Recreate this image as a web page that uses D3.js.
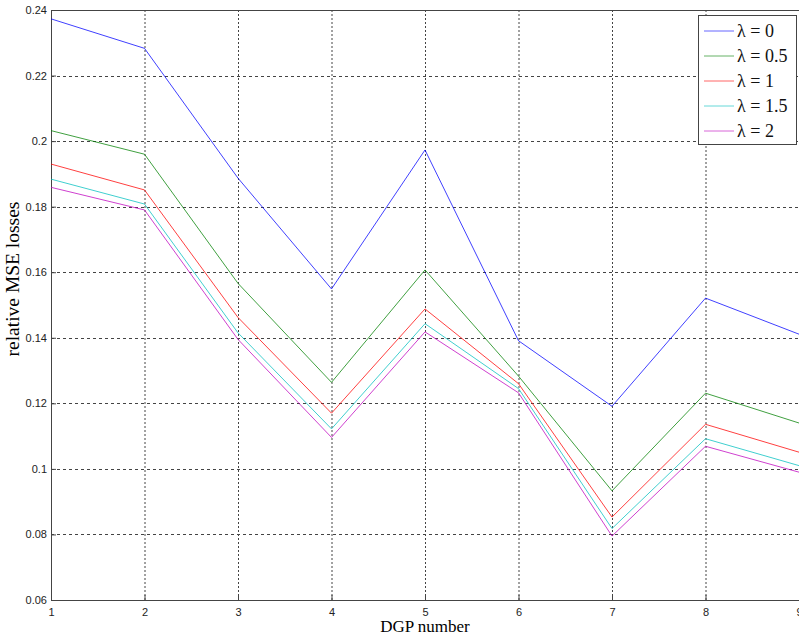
<!DOCTYPE html>
<html>
<head>
<meta charset="utf-8">
<script src="https://cdn.jsdelivr.net/npm/d3@7"></script>
<style>
  body { margin: 0; background: #fff; }
  svg { display: block; }
</style>
</head>
<body>
<svg id="chart" width="799" height="637"></svg>
<script>
// DGP numbers on the x axis
const dgp = [1, 2, 3, 4, 5, 6, 7, 8, 9];

// relative MSE losses, one array per lambda
const lam0   = [0.2373, 0.2283, 0.1887, 0.1549, 0.1973, 0.1391, 0.1191, 0.1521, 0.1411];
const lam05  = [0.2032, 0.1960, 0.1566, 0.1264, 0.1607, 0.1283, 0.0933, 0.1231, 0.1140];
const lam1   = [0.1930, 0.1851, 0.1462, 0.1170, 0.1488, 0.1260, 0.0853, 0.1136, 0.1051];
const lam15  = [0.1884, 0.1808, 0.1415, 0.1122, 0.1443, 0.1245, 0.0818, 0.1092, 0.1010];
const lam2   = [0.1859, 0.1790, 0.1395, 0.1096, 0.1418, 0.1232, 0.0795, 0.1069, 0.0990];

const seriesNames  = ["λ = 0", "λ = 0.5", "λ = 1", "λ = 1.5", "λ = 2"];
const seriesValues = [lam0, lam05, lam1, lam15, lam2];
const seriesColors = ["#0000ff", "#008000", "#ff0000", "#00bfbf", "#bf00bf"];

const yTicks = [0.06, 0.08, 0.1, 0.12, 0.14, 0.16, 0.18, 0.2, 0.22, 0.24];

const svg = d3.select("#chart");
const margin = { top: 10, right: 0, bottom: 37, left: 51 };
const width = 799, height = 637;
const innerW = 748, innerH = height - margin.top - margin.bottom;

const x = d3.scaleLinear().domain([1, 9]).range([0, innerW]);
const y = d3.scaleLinear().domain([0.06, 0.24]).range([innerH, 0]);

const g = svg.append("g").attr("transform", `translate(${margin.left},${margin.top})`);

// grid lines (dotted, MATLAB style)
g.append("g").selectAll("line").data(dgp.slice(1, -1)).join("line")
  .attr("x1", d => x(d) + 0.5).attr("x2", d => x(d) + 0.5)
  .attr("y1", 0).attr("y2", innerH)
  .attr("stroke", "#444").attr("stroke-width", 1).attr("stroke-dasharray", "2,2");
g.append("g").selectAll("line").data(yTicks.slice(1, -1)).join("line")
  .attr("x1", 0).attr("x2", innerW)
  .attr("y1", d => Math.round(y(d)) + 0.5).attr("y2", d => Math.round(y(d)) + 0.5)
  .attr("stroke", "#444").attr("stroke-width", 1).attr("stroke-dasharray", "3,3");

// axes with inward ticks
const xAxis = d3.axisBottom(x).tickValues(dgp).tickSizeInner(-5).tickSizeOuter(0).tickPadding(8);
const yAxis = d3.axisLeft(y).tickValues(yTicks).tickFormat(d3.format("~g")).tickSizeInner(-5).tickSizeOuter(0).tickPadding(4);

const gx = g.append("g").attr("transform", `translate(0,${innerH})`).call(xAxis);
const gy = g.append("g").call(yAxis);
[gx, gy].forEach(a => {
  a.selectAll("path").attr("stroke", "#444");
  a.selectAll("line").attr("stroke", "#444");
  a.selectAll("text").attr("fill", "#222").style("font-family", "Arial, 'Liberation Sans', sans-serif").style("font-size", "11px");
});

// top and right frame
g.append("line").attr("x1", 0).attr("x2", innerW).attr("y1", 0.5).attr("y2", 0.5).attr("stroke", "#444");
g.append("line").attr("x1", innerW + 0.5).attr("x2", innerW + 0.5).attr("y1", 0).attr("y2", innerH).attr("stroke", "#444");

// series lines
const line = d3.line().x((d, i) => x(dgp[i])).y(d => y(d));
seriesValues.forEach((vals, k) => {
  g.append("path").datum(vals)
    .attr("d", line)
    .attr("fill", "none")
    .attr("stroke", seriesColors[k])
    .attr("stroke-opacity", 0.75)
    .attr("stroke-width", 1);
});

// axis titles
svg.append("text").attr("x", margin.left + innerW / 2).attr("y", 632)
  .attr("text-anchor", "middle")
  .style("font-family", "'Liberation Serif', 'Times New Roman', serif").style("font-size", "17px")
  .text("DGP number");
svg.append("text")
  .attr("transform", "translate(19,279) rotate(-90)")
  .attr("text-anchor", "middle")
  .style("font-family", "'Liberation Serif', 'Times New Roman', serif").style("font-size", "19.5px")
  .text("relative MSE losses");

// legend
const lg = svg.append("g").attr("transform", "translate(698,15)");
lg.append("rect").attr("x", 0.5).attr("y", 0.5).attr("width", 98).attr("height", 129)
  .attr("fill", "#fff").attr("stroke", "#444");
seriesNames.forEach((name, k) => {
  const yy = 16 + k * 25;
  lg.append("line").attr("x1", 6).attr("x2", 36).attr("y1", yy).attr("y2", yy)
    .attr("stroke", seriesColors[k]).attr("stroke-opacity", 0.6);
  lg.append("text").attr("x", 39).attr("y", yy + 6)
    .style("font-family", "'Liberation Serif', 'Times New Roman', serif").style("font-size", "18px")
    .attr("fill", "#111")
    .text(name);
});
</script>
</body>
</html>
